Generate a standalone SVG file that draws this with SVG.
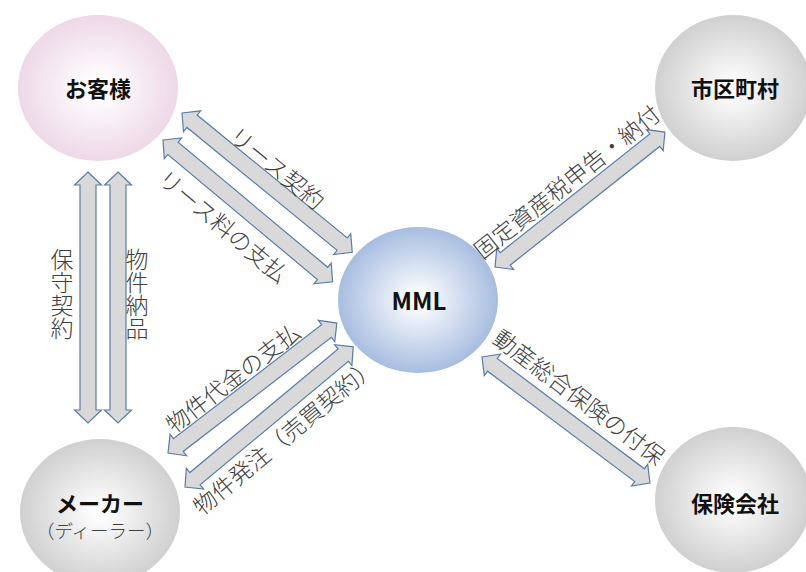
<svg xmlns="http://www.w3.org/2000/svg" width="806" height="572" viewBox="0 0 806 572">
<defs>
<radialGradient id="gPink" cx="50%" cy="50%" r="50%"><stop offset="0.1" stop-color="#ffffff"/><stop offset="1" stop-color="#eed8e7"/></radialGradient>
<radialGradient id="gBlue" cx="50%" cy="50%" r="50%"><stop offset="0.05" stop-color="#ffffff"/><stop offset="1" stop-color="#a7bde0"/></radialGradient>
<radialGradient id="gGray" cx="50%" cy="50%" r="50%"><stop offset="0.05" stop-color="#ffffff"/><stop offset="1" stop-color="#d0d0d0"/></radialGradient>
<style>
.arrow{fill:#d9d9d9;stroke:#5a7ca8;stroke-width:1.2;stroke-linejoin:miter}
.lbl{font-family:"Noto Sans CJK JP","Noto Sans",sans-serif;font-size:23px;font-weight:300;fill:#404040;text-anchor:middle;dominant-baseline:central}
.vlbl{font-family:"Noto Sans CJK JP","Noto Sans",sans-serif;font-size:23px;font-weight:300;fill:#404040;text-anchor:middle;writing-mode:vertical-rl}
.node{font-family:"Noto Sans CJK JP","Noto Sans",sans-serif;font-size:22px;font-weight:bold;fill:#111111;text-anchor:middle;dominant-baseline:central}
.sub{font-family:"Noto Sans CJK JP","Noto Sans",sans-serif;font-size:18.5px;font-weight:300;fill:#404040;text-anchor:middle;dominant-baseline:central}
</style>
</defs>
<g id="connectors">
<path class="arrow" transform="translate(88,172) rotate(90)" d="M0,0 L13,-13.5 L13,-8 L238,-8 L238,-13.5 L251,0 L238,13.5 L238,8 L13,8 L13,13.5 Z"/>
<path class="arrow" transform="translate(118,172) rotate(90)" d="M0,0 L13,-13.5 L13,-8 L238,-8 L238,-13.5 L251,0 L238,13.5 L238,8 L13,8 L13,13.5 Z"/>
<path class="arrow" transform="translate(182,113) rotate(39.3)" d="M0,0 L13,-13.5 L13,-8 L207,-8 L207,-13.5 L220,0 L207,13.5 L207,8 L13,8 L13,13.5 Z"/>
<path class="arrow" transform="translate(163,140) rotate(39.9)" d="M0,0 L13,-13.5 L13,-8 L208,-8 L208,-13.5 L221,0 L208,13.5 L208,8 L13,8 L13,13.5 Z"/>
<path class="arrow" transform="translate(495,267) rotate(-38.45)" d="M0,0 L13,-13.5 L13,-8 L204,-8 L204,-13.5 L217,0 L204,13.5 L204,8 L13,8 L13,13.5 Z"/>
<path class="arrow" transform="translate(482,357) rotate(36.87)" d="M0,0 L13,-13.5 L13,-8 L197,-8 L197,-13.5 L210,0 L197,13.5 L197,8 L13,8 L13,13.5 Z"/>
<path class="arrow" transform="translate(168,453) rotate(-37.57)" d="M0,0 L13,-13.5 L13,-8 L200,-8 L200,-13.5 L213,0 L200,13.5 L200,8 L13,8 L13,13.5 Z"/>
<path class="arrow" transform="translate(185,487) rotate(-39.8)" d="M0,0 L13,-13.5 L13,-8 L206,-8 L206,-13.5 L219,0 L206,13.5 L206,8 L13,8 L13,13.5 Z"/>
<text class="vlbl" x="62" y="294">保守契約</text>
<text class="vlbl" x="137" y="294">物件納品</text>
<text class="lbl" transform="translate(278,167) rotate(39.3)">リース契約</text>
<text class="lbl" transform="translate(224,225) rotate(39.9)">リース料の支払</text>
<text class="lbl" transform="translate(566,181) rotate(-38.45)">固定資産税申告・納付</text>
<text class="lbl" transform="translate(580,396) rotate(37)">動産総合保険の付保</text>
<text class="lbl" transform="translate(232,377) rotate(-37.6)">物件代金の支払</text>
<text class="lbl" transform="translate(284,435) rotate(-39.8)">物件発注（売買契約）</text>
</g>
<g id="customer">
<ellipse cx="98" cy="88" rx="80" ry="73" fill="url(#gPink)"/>
<text class="node" x="98" y="87">お客様</text>
</g>
<g id="municipality">
<ellipse cx="733" cy="88" rx="78" ry="73" fill="url(#gGray)"/>
<text class="node" x="735" y="87">市区町村</text>
</g>
<g id="mml">
<ellipse cx="418" cy="300" rx="80" ry="73" fill="url(#gBlue)"/>
<text class="node" x="419" y="299" style="font-size:24px">MML</text>
</g>
<g id="insurance">
<ellipse cx="733" cy="500" rx="78" ry="73" fill="url(#gGray)"/>
<text class="node" x="735" y="502">保険会社</text>
</g>
<g id="maker">
<ellipse cx="100" cy="512" rx="80" ry="73" fill="url(#gGray)"/>
<text class="node" x="100" y="502">メーカー</text>
<text class="sub" x="100" y="530">（ディーラー）</text>
</g>
</svg>
